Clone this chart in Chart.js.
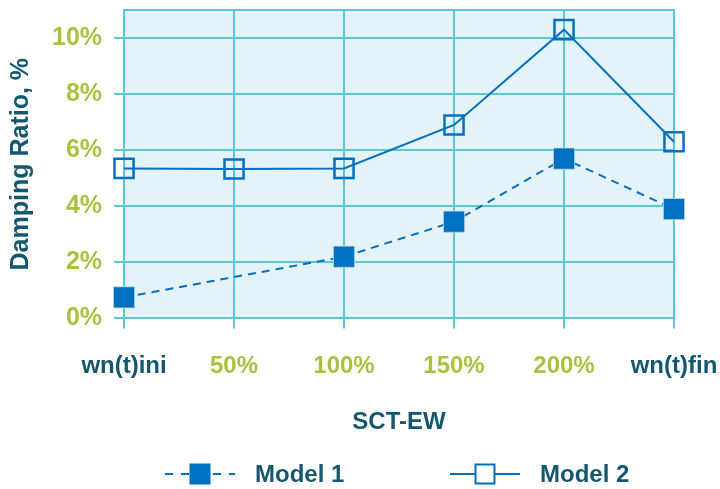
<!DOCTYPE html>
<html>
<head>
<meta charset="utf-8">
<script src="https://cdn.jsdelivr.net/npm/chart.js@4.4.0/dist/chart.umd.min.js"></script>
<style>
  html, body { margin: 0; padding: 0; background: #fff; }
  #wrap { width: 720px; height: 489px; }
</style>
</head>
<body>
<div id="wrap"><canvas id="lineChart"></canvas></div>
<script>
// data
var categories = ['wn(t)ini', '50%', '100%', '150%', '200%', 'wn(t)fin'];
var model1 = [0.75, null, 2.2, 3.45, 5.7, 3.9];
var model2 = [5.35, 5.33, 5.35, 6.9, 10.3, 6.3];
var yTicks = [0, 2, 4, 6, 8, 10];

var blue = '#0070c0';
var grid = '#5bc7d5';
var green = '#a9c23f';
var teal = '#15576f';

// background of plot area + top border
var plotBg = {
  id: 'plotBg',
  beforeDraw: function (chart) {
    var a = chart.chartArea, ctx = chart.ctx;
    ctx.save();
    ctx.fillStyle = '#e4f3f8';
    ctx.fillRect(a.left, a.top, a.right - a.left, a.bottom - a.top);
    ctx.restore();
  },
  beforeDatasetsDraw: function (chart) {
    var a = chart.chartArea, ctx = chart.ctx;
    ctx.save();
    ctx.strokeStyle = grid;
    ctx.lineWidth = 2;
    ctx.beginPath();
    ctx.moveTo(a.left - 1, a.top);
    ctx.lineTo(a.right + 1, a.top);
    ctx.stroke();
    ctx.restore();
  }
};

// legend drawn by hand so the line style shows with the marker
var customLegend = {
  id: 'customLegend',
  afterDraw: function (chart) {
    var ctx = chart.ctx;
    var y = 474;
    var items = [
      { x: 165, label: 'Model 1', dash: [8, 8], fill: blue },
      { x: 450, label: 'Model 2', dash: [], fill: null }
    ];
    ctx.save();
    items.forEach(function (it) {
      ctx.strokeStyle = blue;
      ctx.lineWidth = 2;
      ctx.setLineDash(it.dash);
      ctx.beginPath();
      ctx.moveTo(it.x, y);
      ctx.lineTo(it.x + 70, y);
      ctx.stroke();
      ctx.setLineDash([]);
      var cx = it.x + 35;
      if (it.fill) {
        ctx.fillStyle = it.fill;
        ctx.fillRect(cx - 10.5, y - 10.5, 21, 21);
      } else {
        ctx.fillStyle = '#ffffff';
        ctx.fillRect(cx - 9.5, y - 9.5, 19, 19);
        ctx.strokeRect(cx - 9.5, y - 9.5, 19, 19);
      }
      ctx.fillStyle = teal;
      ctx.font = 'bold 24px "Liberation Sans", Arial, sans-serif';
      ctx.textBaseline = 'middle';
      ctx.fillText(it.label, it.x + 90, y + 1);
    });
    ctx.restore();
  }
};

// let the layout padding alone decide the plot box
function noOverhang(scale) {
  scale.paddingLeft = 0;
  scale.paddingRight = 0;
  scale.paddingTop = 0;
  scale.paddingBottom = 0;
}

var ctx = document.getElementById('lineChart');

new Chart(ctx, {
  type: 'line',
  data: {
    labels: categories,
    datasets: [{
      label: 'Model 1',
      data: model1,
      borderColor: blue,
      borderWidth: 2,
      borderDash: [8, 6],
      spanGaps: true,
      pointStyle: 'rect',
      pointRadius: 15,
      pointBackgroundColor: blue,
      pointBorderColor: 'rgba(190,220,235,0.8)',
      pointBorderWidth: 1,
      tension: 0,
      clip: false
    }, {
      label: 'Model 2',
      data: model2,
      borderColor: blue,
      borderWidth: 2,
      pointStyle: 'rect',
      pointRadius: 13.5,
      pointBackgroundColor: 'rgba(0,0,0,0)',
      pointBorderColor: blue,
      pointBorderWidth: 2.5,
      tension: 0,
      clip: false
    }]
  },
  options: {
    responsive: true,
    maintainAspectRatio: false,
    animation: false,
    events: [],
    layout: { autoPadding: false, padding: { top: 10, right: 46, bottom: 52, left: 2 } },
    plugins: {
      legend: { display: false },
      tooltip: { enabled: false }
    },
    scales: {
      x: {
        offset: false,
        afterFit: noOverhang,
        grid: { color: grid, lineWidth: 2, tickLength: 10 },
        border: { color: grid, width: 2 },
        ticks: {
          color: [teal, green, green, green, green, teal],
          font: { family: '"Liberation Sans", Arial, sans-serif', size: 24, weight: 'bold' },
          padding: 24,
          maxRotation: 0,
          autoSkip: false
        },
        title: {
          display: true,
          text: 'SCT-EW',
          color: teal,
          font: { family: '"Liberation Sans", Arial, sans-serif', size: 24, weight: 'bold' },
          padding: { top: 3, bottom: 0 }
        }
      },
      y: {
        min: 0,
        max: 11,
        afterFit: noOverhang,
        afterBuildTicks: function (scale) {
          scale.ticks = yTicks.map(function (v) { return { value: v }; });
        },
        grid: { color: grid, lineWidth: 2, tickLength: 10 },
        border: { color: grid, width: 2 },
        ticks: {
          color: green,
          font: { family: '"Liberation Sans", Arial, sans-serif', size: 25, weight: 'bold' },
          padding: 12,
          callback: function (v) { return v + '%'; }
        },
        title: {
          display: true,
          text: 'Damping Ratio, %',
          color: teal,
          font: { family: '"Liberation Sans", Arial, sans-serif', size: 25, weight: 'bold' },
          padding: { top: 4, bottom: 4 }
        }
      }
    }
  },
  plugins: [plotBg, customLegend]
});
</script>
</body>
</html>
